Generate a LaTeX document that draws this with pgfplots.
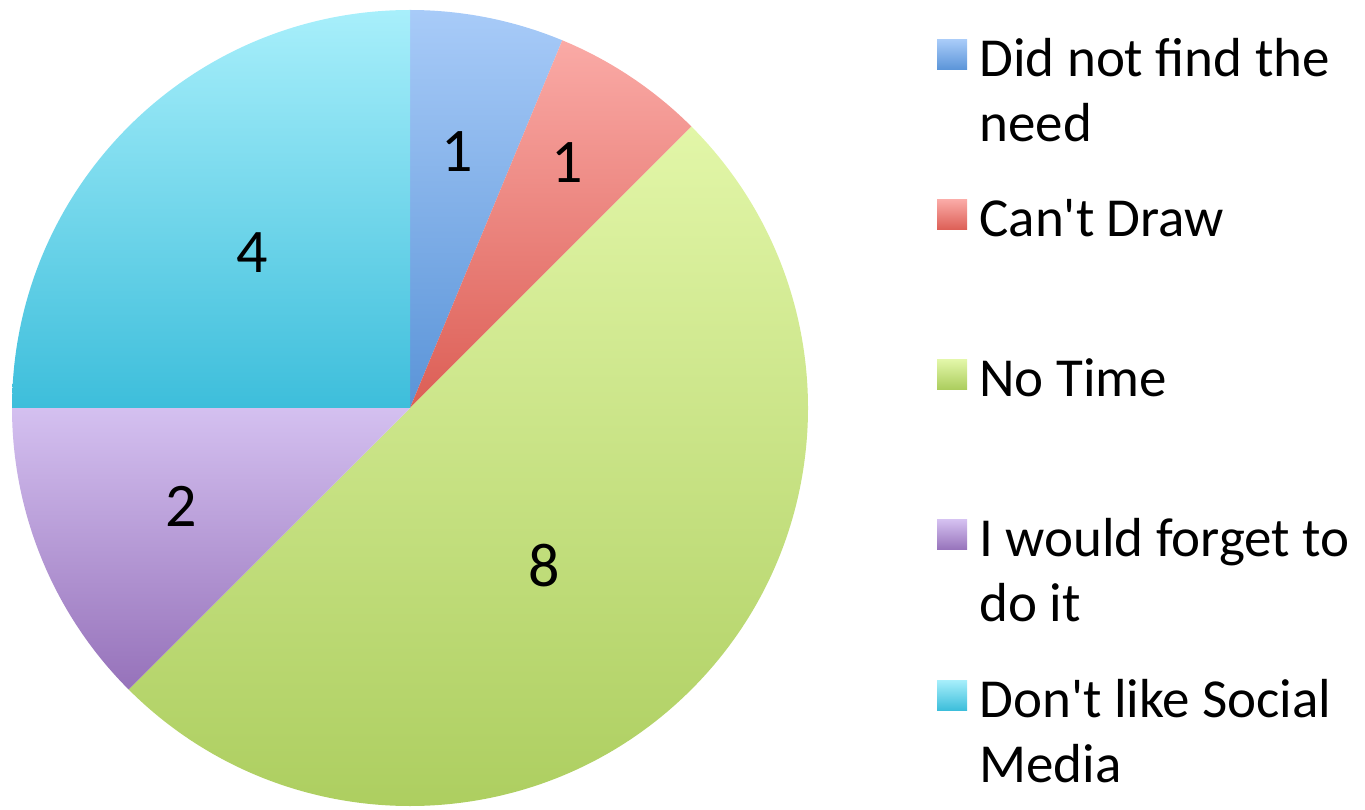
\documentclass[border=0pt]{standalone}
\usepackage{fontspec}
\setmainfont{Carlito}[Ligatures=TeXOff]
\usepackage{pgfplots}
\pgfplotsset{compat=1.18}

\definecolor{blueT}{HTML}{A8CBF8}
\definecolor{blueB}{HTML}{5A94D8}
\definecolor{redT}{HTML}{FAAAA6}
\definecolor{redB}{HTML}{DC5E55}
\definecolor{greenT}{HTML}{E2F6A8}
\definecolor{greenB}{HTML}{AACC5C}
\definecolor{purpleT}{HTML}{D4C0F0}
\definecolor{purpleB}{HTML}{9672BA}
\definecolor{cyanT}{HTML}{A8EFFB}
\definecolor{cyanB}{HTML}{3DBEDB}

\newcommand\labelfont{\fontsize{31}{36}\selectfont}
\newcommand\legfont{\fontsize{27.5}{32.5}\selectfont}

\begin{document}
\begin{tikzpicture}
\begin{axis}[
    name=ax,
    hide axis,
    x=0.5pt, y=0.5pt,
    xmin=0, xmax=1365,
    ymin=0, ymax=809,
    clip=false
]
\path (axis cs:0,0) rectangle (axis cs:1365,809);

% slices: value / top colour / bottom colour / label position
\def\total{16}
\gdef\startangle{90}
\foreach \v/\ca/\cb/\lx/\ly in {
    1/blueT/blueB/457/657,
    1/redT/redB/567/646,
    8/greenT/greenB/544/243,
    2/purpleT/purpleB/181/303,
    4/cyanT/cyanB/252/556}{
  \pgfmathsetmacro\endangle{\startangle-360*\v/\total}
  \edef\temp{\noexpand\shade[top color=\ca, bottom color=\cb]
      (axis cs:410,401) -- ++(\startangle:199pt)
      arc[start angle=\startangle, end angle=\endangle, radius=199pt] -- cycle;
    \noexpand\node[font=\noexpand\labelfont, inner sep=0pt] at (axis cs:\lx,\ly) {\v};}
  \temp
  \xdef\startangle{\endangle}
}

% legend
\foreach \y/\ca/\cb/\la/\lb in {
    754/blueT/blueB/Did not find the/need,
    594/redT/redB/Can't Draw/,
    434/greenT/greenB/No Time/,
    274/purpleT/purpleB/I would forget to/do it,
    114/cyanT/cyanB/Don't like Social/Media}{
  \pgfmathtruncatemacro\ya{\y+15}
  \pgfmathtruncatemacro\yb{\y-15}
  \pgfmathtruncatemacro\ba{\y-22}
  \pgfmathtruncatemacro\bb{\y-87}
  \edef\temp{\noexpand\shade[top color=\ca, bottom color=\cb]
      (axis cs:937,\yb) rectangle (axis cs:967,\ya);
    \noexpand\node[font=\noexpand\legfont, anchor=base west, inner sep=0pt] at (axis cs:979,\ba) {\la};
    \noexpand\node[font=\noexpand\legfont, anchor=base west, inner sep=0pt] at (axis cs:979,\bb) {\lb};}
  \temp
}
\end{axis}
\pgfresetboundingbox
\path (ax.south west) rectangle (ax.north east);
\end{tikzpicture}
\end{document}
